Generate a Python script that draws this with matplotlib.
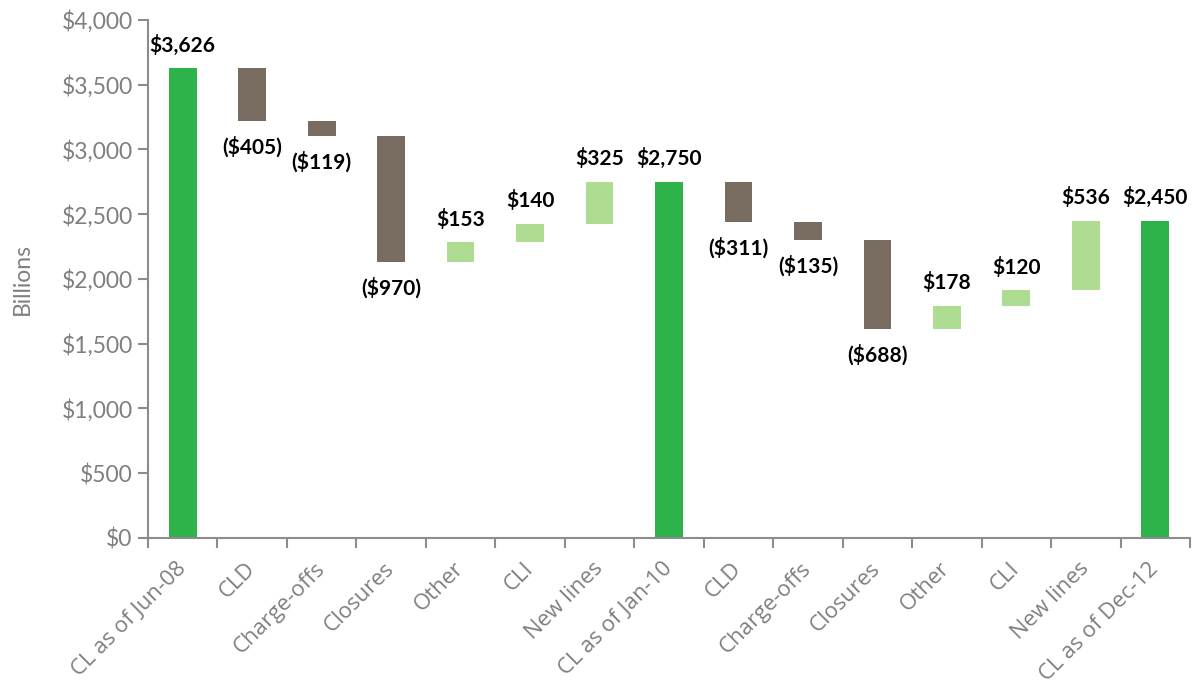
import numpy as np
import matplotlib
matplotlib.use('Agg')
import matplotlib.pyplot as plt

# waterfall data (billions)
categories = ['CL as of Jun-08', 'CLD', 'Charge-offs', 'Closures', 'Other', 'CLI', 'New lines',
              'CL as of Jan-10', 'CLD', 'Charge-offs', 'Closures', 'Other', 'CLI', 'New lines',
              'CL as of Dec-12']
changes = [3626, -405, -119, -970, 153, 140, 325,
           2750, -311, -135, -688, 178, 120, 536,
           2450]
is_total = [True, False, False, False, False, False, False,
            True, False, False, False, False, False, False,
            True]
y_ticks = [0, 500, 1000, 1500, 2000, 2500, 3000, 3500, 4000]

green = '#2DB34A'
brown = '#786C61'
light = '#AEDC91'
axis_gray = '#8C8C8C'
text_gray = '#7F7F7F'

# compute bottoms / heights
bottoms, heights, colors = [], [], []
running = 0
for v, tot in zip(changes, is_total):
    if tot:
        bottoms.append(0)
        heights.append(v)
        colors.append(green)
        running = v
    elif v < 0:
        bottoms.append(running + v)
        heights.append(-v)
        colors.append(brown)
        running += v
    else:
        bottoms.append(running)
        heights.append(v)
        colors.append(light)
        running += v

fig = plt.figure(figsize=(11.96, 6.87), dpi=100)
ax = fig.add_axes([0.1237, 0.2169, 0.8713, 0.754])

x = np.arange(len(categories))
ax.bar(x, heights, bottom=bottoms, width=0.4, color=colors, zorder=2)

def fmt(v):
    return f'(${-v:,})' if v < 0 else f'${v:,}'

for xi, v, b, h, tot in zip(x, changes, bottoms, heights, is_total):
    if v < 0 and not tot:
        ax.annotate(fmt(v), (xi, b), xytext=(0, -11), textcoords='offset points',
                    ha='center', va='top', fontsize=15, fontweight='bold',
                    family='Lato', color='black')
    else:
        ax.annotate(fmt(v), (xi, b + h), xytext=(0, 9), textcoords='offset points',
                    ha='center', va='bottom', fontsize=15, fontweight='bold',
                    family='Lato', color='black')

ax.set_xlim(-0.5, len(categories) - 0.5)
ax.set_ylim(0, 4000)
ax.set_yticks(y_ticks)
ax.set_yticklabels([f'${t:,}' for t in y_ticks], fontsize=16.5, family='Lato', color=text_gray)
ax.set_ylabel('Billions', fontsize=16.5, family='Lato', color=text_gray)
ax.yaxis.set_label_coords(-0.110, 0.5)

# x tick marks at category boundaries, labels centred on bars
ax.set_xticks(np.arange(-0.5, len(categories), 1.0))
ax.set_xticklabels([])
ax.set_xticks(x, minor=True)
ax.set_xticklabels(categories, minor=True, rotation=45, ha='right', va='center',
                   rotation_mode='anchor', fontsize=16, family='Open Sans', color=text_gray)
ax.tick_params(axis='x', which='minor', length=0, pad=20)
ax.tick_params(axis='x', which='major', length=7, width=1.5, color=axis_gray)
ax.tick_params(axis='y', length=7, width=1.5, color=axis_gray, pad=4)

for s in ['top', 'right']:
    ax.spines[s].set_visible(False)
for s in ['left', 'bottom']:
    ax.spines[s].set_color(axis_gray)
    ax.spines[s].set_linewidth(1.5)

fig.savefig('out.png', dpi=100)
